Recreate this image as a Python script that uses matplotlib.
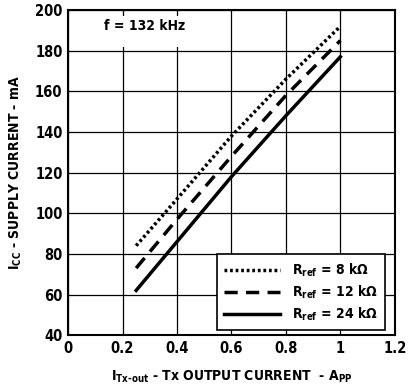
import matplotlib
matplotlib.use("Agg")
import matplotlib.pyplot as plt
from matplotlib import font_manager
from matplotlib.patches import Rectangle

# data
x_vals = [0.25, 0.4, 0.6, 0.8, 1.0]
i_8k = [84, 107, 138, 166, 192]
i_12k = [73, 97, 128, 158, 185]
i_24k = [62, 86, 118, 148, 177]

x_ticks = [0, 0.2, 0.4, 0.6, 0.8, 1, 1.2]
x_labels = ["0", "0.2", "0.4", "0.6", "0.8", "1", "1.2"]
y_ticks = [40, 60, 80, 100, 120, 140, 160, 180, 200]

# look for a narrow font, otherwise use Liberation Sans
narrow = [f.name for f in font_manager.fontManager.ttflist
          if f.stretch in ("condensed", "semi-condensed", "extra-condensed")
          or "Narrow" in f.name or "Condensed" in f.name]
main_font = narrow[0] if narrow else "Liberation Sans"

fam = [main_font, "DejaVu Sans"]
plt.rcParams["font.family"] = fam
plt.rcParams["font.weight"] = "bold"
plt.rcParams["font.stretch"] = "condensed"
plt.rcParams["mathtext.fontset"] = "custom"
plt.rcParams["mathtext.rm"] = main_font + ":bold"
plt.rcParams["mathtext.it"] = main_font + ":bold"
plt.rcParams["mathtext.bf"] = main_font + ":bold"

fig = plt.figure(figsize=(4.1, 3.87), dpi=100)
ax = fig.add_axes([0.166, 0.134, 0.797, 0.84])

ax.plot(x_vals, i_8k, color="black", lw=2.5, linestyle=(0, (0.8, 0.8)),
        dash_capstyle="butt", label=r"R$_{\mathrm{ref}}$ = 8 k$\Omega$")
ax.plot(x_vals, i_12k, color="black", lw=2.5, linestyle=(0, (3.8, 2.4)),
        label=r"R$_{\mathrm{ref}}$ = 12 k$\Omega$")
ax.plot(x_vals, i_24k, color="black", lw=2.5, linestyle="-",
        label=r"R$_{\mathrm{ref}}$ = 24 k$\Omega$")

ax.set_xlim(0, 1.2)
ax.set_ylim(40, 200)
ax.set_xticks(x_ticks)
ax.set_xticklabels(x_labels)
ax.set_yticks(y_ticks)
ax.tick_params(length=0, labelsize=10.5, pad=4)
for lab in ax.get_xticklabels() + ax.get_yticklabels():
    lab.set_fontweight("bold")
ax.grid(True, color="black", lw=0.9)
ax.set_axisbelow(True)
for s in ax.spines.values():
    s.set_linewidth(1.5)

# white note box hiding the grid at the top left
ax.add_patch(Rectangle((0.01, 182), 0.48, 15, facecolor="white",
                       edgecolor="none", zorder=1.5))
ax.text(0.28, 192, "f = 132 kHz", ha="center", va="center", fontsize=10,
        fontweight="bold", zorder=3)

leg = ax.legend(loc="lower right", bbox_to_anchor=(0.969, 0.015),
                fontsize=10, handlelength=4.0,
                fancybox=False, framealpha=1, edgecolor="black",
                borderaxespad=0, labelspacing=0.35, handletextpad=0.9,
                borderpad=0.5)
leg.get_frame().set_linewidth(1.2)

ax.set_ylabel(r"I$_{\mathrm{CC}}$ - SUPPLY CURRENT - mA", fontsize=10,
              fontweight="bold", labelpad=8)
ax.set_xlabel(r"I$_{\mathrm{Tx\text{-}out}}$ - Tx OUTPUT CURRENT  - A$_{\mathrm{PP}}$",
              fontsize=10, fontweight="bold", labelpad=9)

fig.savefig("out.png", dpi=100)
